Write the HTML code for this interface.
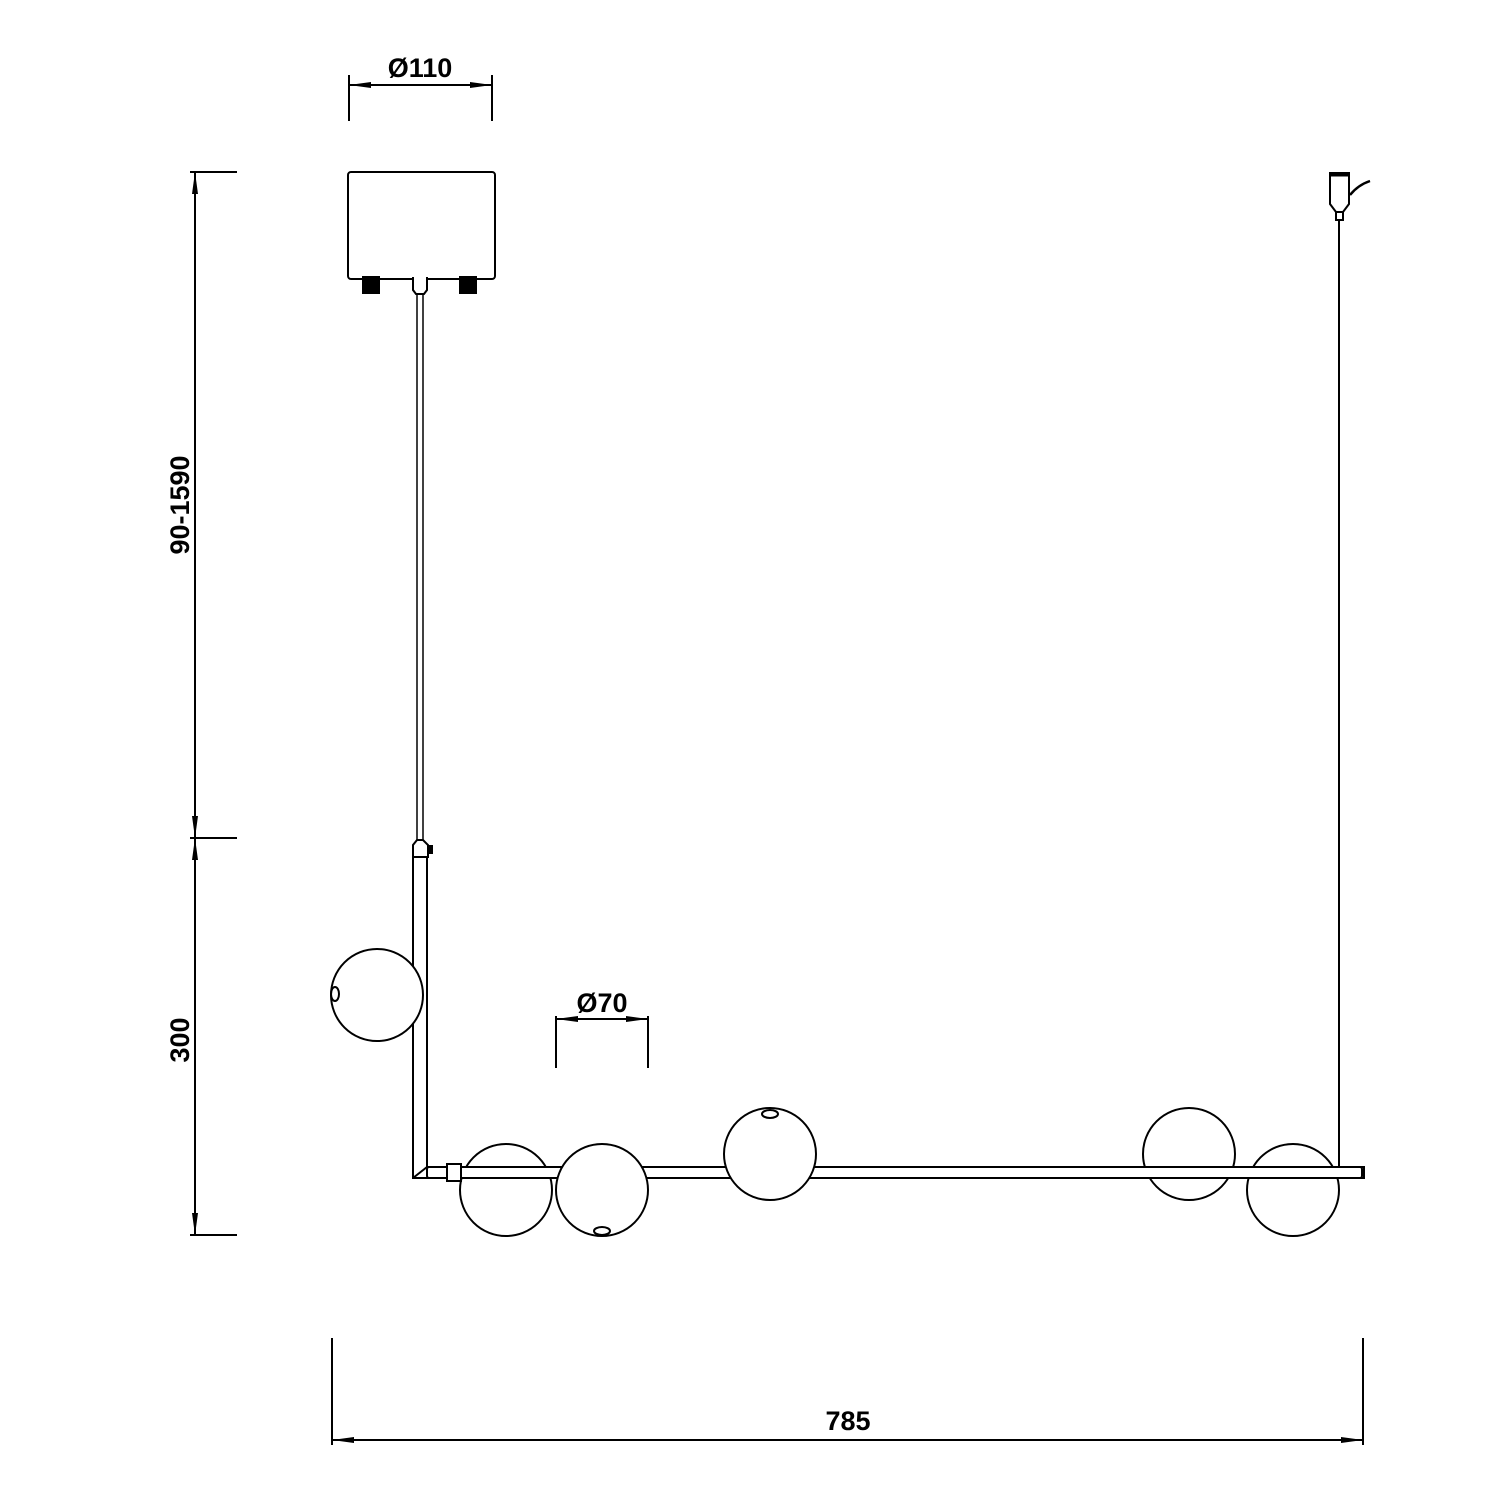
<!DOCTYPE html>
<html><head><style>body{margin:0;background:#fff}</style></head><body>
<svg width="1500" height="1500" xmlns="http://www.w3.org/2000/svg" font-family="Liberation Sans, sans-serif">
<defs>
<marker id="b" markerWidth="22" markerHeight="8" refX="22" refY="4" orient="auto-start-reverse" markerUnits="userSpaceOnUse"><path d="M0,1L22,4L0,7z" fill="#000"/></marker></defs>
<g stroke="#000" fill="none" stroke-width="2">
<line x1="349" y1="75" x2="349" y2="121"/><line x1="492" y1="75" x2="492" y2="121"/>
<line x1="349" y1="85" x2="492" y2="85" marker-start="url(#b)" marker-end="url(#b)"/>
<line x1="556" y1="1016" x2="556" y2="1068"/><line x1="648" y1="1016" x2="648" y2="1068"/>
<line x1="556" y1="1019" x2="648" y2="1019" marker-start="url(#b)" marker-end="url(#b)"/>
<line x1="190" y1="172" x2="237" y2="172"/><line x1="190" y1="838" x2="237" y2="838"/><line x1="190" y1="1235" x2="237" y2="1235"/>
<line x1="195" y1="172" x2="195" y2="838" marker-start="url(#b)" marker-end="url(#b)"/>
<line x1="195" y1="838" x2="195" y2="1235" marker-start="url(#b)" marker-end="url(#b)"/>
<line x1="332" y1="1338" x2="332" y2="1445"/><line x1="1363" y1="1338" x2="1363" y2="1445"/>
<line x1="332" y1="1440" x2="1363" y2="1440" marker-start="url(#b)" marker-end="url(#b)"/>
<rect x="348" y="172" width="147" height="107" rx="3"/>
<rect x="363" y="277" width="16" height="16" fill="#000"/><rect x="460" y="277" width="16" height="16" fill="#000"/>
<path d="M413,277V290L416,294H424L427,290V277" fill="#fff"/>
<line x1="417" y1="294" x2="417" y2="841" stroke-width="1.5"/><line x1="423" y1="294" x2="423" y2="841" stroke-width="1.5"/>
<path d="M413,857V845L417,840H423L428,845V857Z" fill="#fff"/>
<rect x="428" y="846" width="4" height="7" fill="#000"/>
<path d="M413,857V1178H1364V1167H427V857"/>
<line x1="413" y1="1178" x2="427" y2="1167"/>
<circle cx="377" cy="995" r="46" fill="#fff"/>
<ellipse cx="335" cy="994" rx="4" ry="7"/>
<circle cx="506" cy="1190" r="46"/>
<circle cx="1189" cy="1154" r="46"/>
<circle cx="1293" cy="1190" r="46"/>
<rect x="427" y="1167" width="935" height="11" rx="2" fill="#fff"/>
<rect x="447" y="1164" width="14" height="17" fill="#fff"/>
<circle cx="602" cy="1190" r="46" fill="#fff"/>
<ellipse cx="602" cy="1231" rx="8" ry="4"/>
<circle cx="770" cy="1154" r="46" fill="#fff"/>
<ellipse cx="770" cy="1114" rx="8" ry="4"/>
<line x1="1339" y1="220" x2="1339" y2="1167"/>
<path d="M1330,173H1349V204L1343,212H1336L1330,204Z" fill="#fff"/>
<line x1="1330" y1="175" x2="1349" y2="175" stroke-width="3"/>
<rect x="1336" y="212" width="7" height="8" fill="#fff"/>
<path d="M1350,195Q1358,185 1370,181" stroke-width="2.5"/>
</g>
<g font-weight="bold" font-size="27" text-anchor="middle" fill="#000">
<text x="420" y="77">Ø110</text>
<text x="602" y="1012">Ø70</text>
<text x="848" y="1430">785</text>
<text transform="translate(189,505) rotate(-90)">90-1590</text>
<text transform="translate(189,1040) rotate(-90)">300</text>
</g>
</svg>
</body></html>
